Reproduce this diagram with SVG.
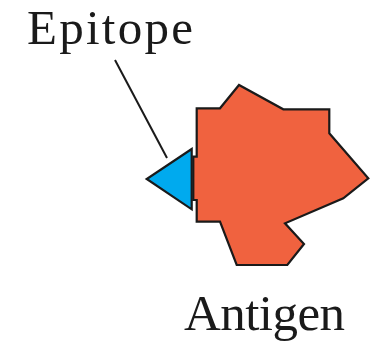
<svg xmlns="http://www.w3.org/2000/svg" width="372" height="344" viewBox="0 0 372 344">
<style>
.lbl{font-family:"Liberation Serif","Times New Roman",serif;font-size:51px;fill:#1a1a1a}
.sh{stroke:#1a1a1a;stroke-width:2.2;stroke-linejoin:miter}
</style>
<rect width="372" height="344" fill="#ffffff"/>
<g id="connectors">
<line x1="115" y1="60" x2="167" y2="158" stroke="#1a1a1a" stroke-width="2"/>
</g>
<g id="antigen">
<polygon class="sh" fill="#f0623f" points="196.7,108.3 220,108.3 239,85 283.3,109.3 329.3,109.3 329.3,133.3 368.3,178.3 343.3,198.3 285,223.3 304,244 287.3,265 236.7,265 220,221.7 196.7,221.7 196.7,200 193.3,200 193.3,156.7 196.7,156.7"/>
<text class="lbl" x="184" y="330" textLength="161">Antigen</text>
</g>
<g id="epitope">
<polygon class="sh" fill="#00aaee" points="191.7,149 146.7,179 191.7,209.3"/>
<text class="lbl" x="27" y="44" style="font-size:49px" textLength="166">Epitope</text>
</g>
</svg>
